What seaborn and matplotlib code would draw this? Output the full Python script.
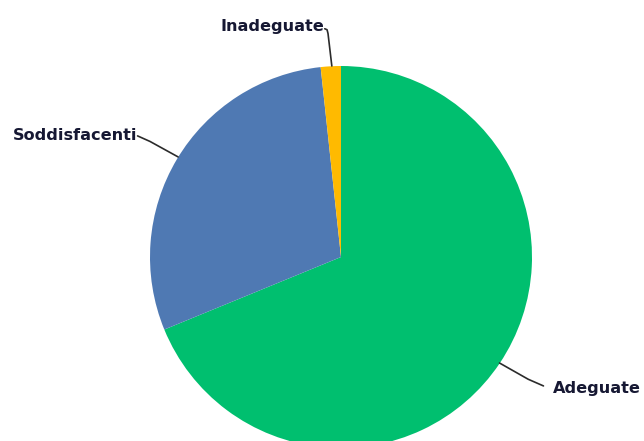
import matplotlib

matplotlib.use("Agg")
import matplotlib.pyplot as plt
import seaborn as sns

# --- data ---
categories = ["Adeguate", "Soddisfacenti", "Inadeguate"]
shares = [68.8, 29.5, 1.7]
colors = ["#00BF6F", "#4F79B3", "#FFBA00"]

sns.set_theme(style="white")
plt.rcParams["font.family"] = ["DejaVu Sans"]

fig = plt.figure(figsize=(6.44, 4.41), dpi=100)
ax = fig.add_axes([0, 0, 1, 1])

wedges, _ = ax.pie(
    shares,
    colors=colors,
    startangle=90,
    counterclock=False,
    radius=1.0,
    wedgeprops={"linewidth": 0},
)

# pie centre at (341, 257) px with radius 191 px
ax.set_xlim(-341 / 191, (644 - 341) / 191)
ax.set_ylim(-(441 - 257) / 191, 257 / 191)
ax.set_aspect("equal")
ax.axis("off")

text_kw = dict(fontsize=11.6, fontweight="bold", color="#161833", va="center")
line_kw = dict(color="#2b2b2b", lw=1.2)

# Adeguate: leader line down-right
ax.plot([0.83, 0.98, 1.06], [-0.555, -0.64, -0.675], **line_kw)
ax.text(1.11, -0.69, categories[0], ha="left", **text_kw)

# Soddisfacenti: leader line up-left
ax.plot([-0.853, -1.0, -1.065], [0.524, 0.605, 0.634], **line_kw)
ax.text(-1.068, 0.634, categories[1], ha="right", **text_kw)

# Inadeguate: leader line straight up
ax.plot([-0.048, -0.068, -0.073, -0.085], [1.0, 1.17, 1.19, 1.195], **line_kw)
ax.text(-0.086, 1.205, categories[2], ha="right", **text_kw)

fig.savefig("out.png", dpi=100)
plt.close(fig)
